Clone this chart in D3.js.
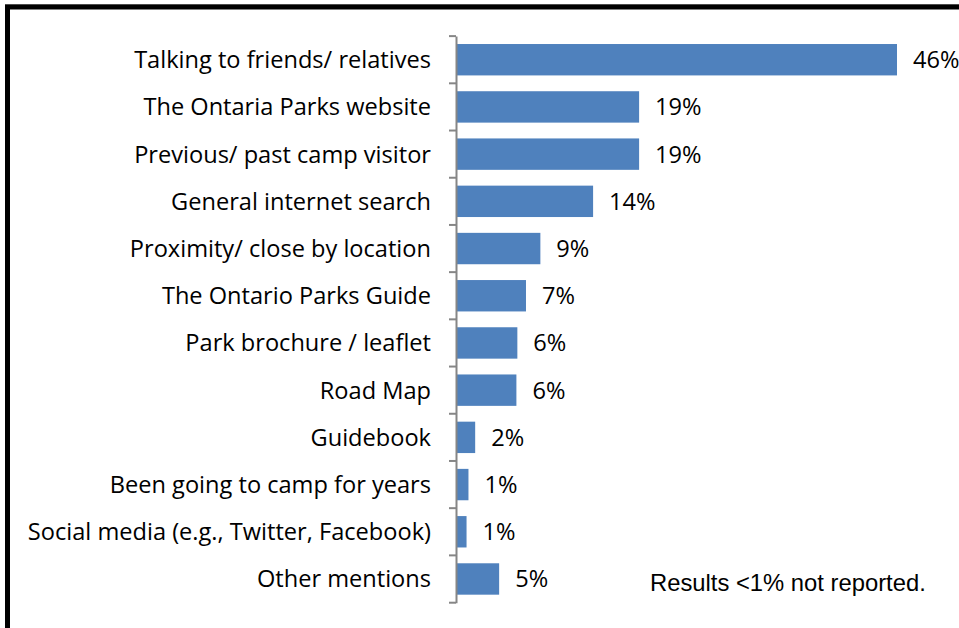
<!DOCTYPE html>
<html><head><meta charset="utf-8">
<script src="https://cdn.jsdelivr.net/npm/d3@7"></script>
<style>html,body{margin:0;padding:0;background:#fff;overflow:hidden}</style>
</head><body>
<svg id="chart" width="959" height="628"></svg>
<script>
const categories = [
  "Talking to friends/ relatives",
  "The Ontaria Parks website",
  "Previous/ past camp visitor",
  "General internet search",
  "Proximity/ close by location",
  "The Ontario Parks Guide",
  "Park brochure / leaflet",
  "Road Map",
  "Guidebook",
  "Been going to camp for years",
  "Social media (e.g., Twitter, Facebook)",
  "Other mentions"
];
const values = [46, 19.1, 19.1, 14.3, 8.8, 7.3, 6.4, 6.3, 2.0, 1.3, 1.1, 4.5];
const valueLabels = ["46%","19%","19%","14%","9%","7%","6%","6%","2%","1%","1%","5%"];
const titleText = "Figure 5: Park Information Source";
const noteText = "Results <1% not reported.";

const svg = d3.select("#chart");
const catFont = "'Open Sans', Lato, sans-serif";

// frame + cut title (the reference shows it clipped at the top edge)
svg.append("text").attr("x", 14).attr("y", 1)
  .attr("font-family", "'Liberation Sans', Arial, sans-serif").attr("font-weight", "bold")
  .attr("font-size", 20).attr("fill", "#222").text(titleText);
svg.append("rect").attr("x", 0).attr("y", 0).attr("width", 959).attr("height", 4).attr("fill", "#fff");
svg.append("line").attr("x1", 5).attr("x2", 959).attr("y1", 4.5).attr("y2", 4.5).attr("stroke", "#999").attr("stroke-width", 1);
svg.append("path").attr("d", "M7.5,640 V7 H970").attr("fill", "none").attr("stroke", "#000").attr("stroke-width", 5);

const x = d3.scaleLinear().domain([0, 46]).range([456, 897]);
const y = d3.scaleBand().domain(categories).range([36, 602.7]).paddingInner(0.335).paddingOuter(0.17);

// bars
svg.append("g").selectAll("rect").data(categories).join("rect")
  .attr("x", x(0) + 1)
  .attr("y", d => y(d))
  .attr("width", (d, i) => x(values[i]) - x(0) - 1)
  .attr("height", y.bandwidth())
  .attr("fill", "#4f81bd");

// axis
const yAxis = d3.axisLeft(y).tickSize(0).tickFormat("");
const axG = svg.append("g").attr("transform", `translate(${x(0)},0)`).call(yAxis);
axG.select(".domain").attr("stroke", "#868686").attr("stroke-width", 2);
// tick marks at category boundaries
const bounds = categories.map(c => y(c) - (y.step() - y.bandwidth()) / 2);
bounds.push(y.range()[1]);
axG.selectAll(".bnd").data(bounds).join("line").attr("class", "bnd")
  .attr("x1", -7).attr("x2", 0).attr("y1", d => d).attr("y2", d => d)
  .attr("stroke", "#868686").attr("stroke-width", 2);

// category labels
svg.append("g").selectAll("text").data(categories).join("text")
  .attr("x", 431)
  .attr("y", d => y(d) + y.bandwidth() / 2)
  .attr("dy", "0.36em")
  .attr("text-anchor", "end")
  .attr("font-family", catFont).attr("font-size", 23.6).attr("fill", "#000")
  .text(d => d);

// value labels
svg.append("g").selectAll("text").data(categories).join("text")
  .attr("x", (d, i) => x(values[i]) + 16)
  .attr("y", d => y(d) + y.bandwidth() / 2)
  .attr("dy", "0.36em")
  .attr("font-family", catFont).attr("font-size", 23.6).attr("fill", "#000")
  .text((d, i) => valueLabels[i]);

// note
svg.append("text").attr("x", 650).attr("y", 591)
  .attr("font-family", "'Liberation Sans', Arial, sans-serif").attr("font-size", 23.8).attr("fill", "#000")
  .text(noteText);
</script>
</body></html>
